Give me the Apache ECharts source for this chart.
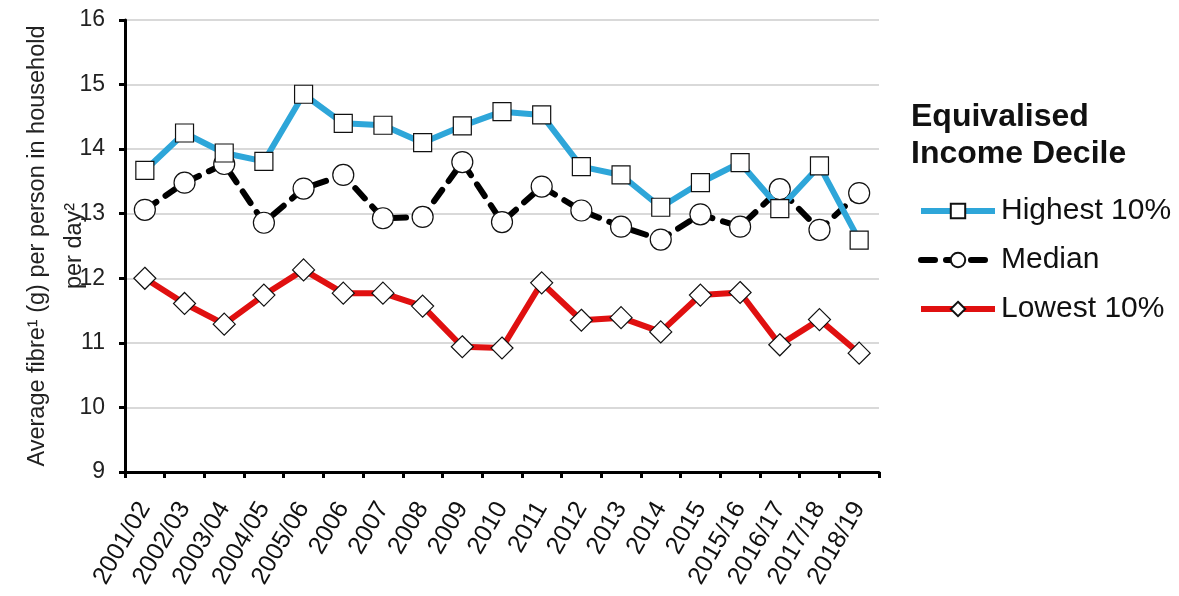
<!DOCTYPE html>
<html><head><meta charset="utf-8">
<script src="https://cdn.jsdelivr.net/npm/echarts@6/dist/echarts.min.js"></script>
<style>html,body{margin:0;padding:0;background:#fff}#c{width:1179px;height:596px}</style>
</head><body><div id="c"></div>
<script>
var categories = ['2001/02','2002/03','2003/04','2004/05','2005/06','2006','2007','2008','2009','2010','2011','2012','2013','2014','2015','2015/16','2016/17','2017/18','2018/19'];
var highest = [13.67,14.25,13.94,13.81,14.85,14.40,14.37,14.10,14.36,14.58,14.53,13.73,13.60,13.10,13.48,13.79,13.08,13.74,12.59];
var median  = [13.06,13.48,13.77,12.86,13.39,13.60,12.93,12.95,13.80,12.87,13.42,13.05,12.80,12.60,12.99,12.80,13.38,12.75,13.32];
var lowest  = [12.00,11.61,11.29,11.74,12.13,11.77,11.77,11.57,10.94,10.92,11.93,11.35,11.39,11.17,11.74,11.78,10.97,11.36,10.84];
var yTicks = [9,10,11,12,13,14,15,16];

var chart = echarts.init(document.getElementById('c'));
var font = 'Liberation Sans, Arial, sans-serif';
chart.setOption({
  animation:false,
  textStyle:{fontFamily:font},
  title:{text:'Equivalised\nIncome Decile', left:911, top:99, padding:0,
    textStyle:{fontFamily:font,fontSize:32,fontWeight:'bold',color:'#111',lineHeight:37}},
  legend:{orient:'vertical', left:918, top:196, padding:0, itemWidth:74, itemHeight:18, itemGap:19,
    lineStyle:{width:6},
    textStyle:{fontFamily:font,fontSize:30,color:'#111',padding:[0,0,0,1]},
    data:['Highest 10%','Median','Lowest 10%']},
  grid:{left:125, right:300, top:20, bottom:124, outerBoundsMode:'none', containLabel:false},
  xAxis:{type:'category', data:categories, boundaryGap:true,
    axisLine:{lineStyle:{color:'#000',width:3}},
    axisTick:{show:true, alignWithLabel:false, length:6, lineStyle:{color:'#000',width:3}},
    axisLabel:{rotate:60, fontSize:25, color:'#111', fontFamily:font, margin:32, interval:0},
    splitLine:{show:false}},
  yAxis:{type:'value', min:9, max:16, interval:1,
    name:'Average fibre\u00b9 (g) per person in household\nper day\u00b2',
    nameLocation:'middle', nameGap:32, nameRotate:90, nameMoveOverlap:false,
    nameTextStyle:{fontSize:23.5,color:'#222',fontFamily:font,lineHeight:37},
    axisLine:{show:true, lineStyle:{color:'#000',width:3}},
    axisTick:{show:true, length:6, lineStyle:{color:'#000',width:3}},
    axisLabel:{fontSize:23, color:'#222', fontFamily:font, margin:20,
      formatter:function(v){return yTicks.indexOf(v)>=0?String(v):'';}},
    splitLine:{show:true, lineStyle:{color:'#d9d9d9',width:2}}},
  series:[
    {name:'Highest 10%', type:'line', data:highest, symbol:'rect', symbolSize:18,
     lineStyle:{color:'#2ea6d9',width:6}, itemStyle:{color:'#fff',borderColor:'#111',borderWidth:1.2}, z:3},
    {name:'Median', type:'line', data:median, symbol:'circle', symbolSize:21,
     lineStyle:{color:'#000',width:6,type:[14,11],cap:'round'}, itemStyle:{color:'#fff',borderColor:'#111',borderWidth:1.2}, z:2},
    {name:'Lowest 10%', type:'line', data:lowest, symbol:'diamond', symbolSize:22,
     lineStyle:{color:'#e01010',width:6}, itemStyle:{color:'#fff',borderColor:'#111',borderWidth:1.2}, z:4}
  ]
});
</script></body></html>
